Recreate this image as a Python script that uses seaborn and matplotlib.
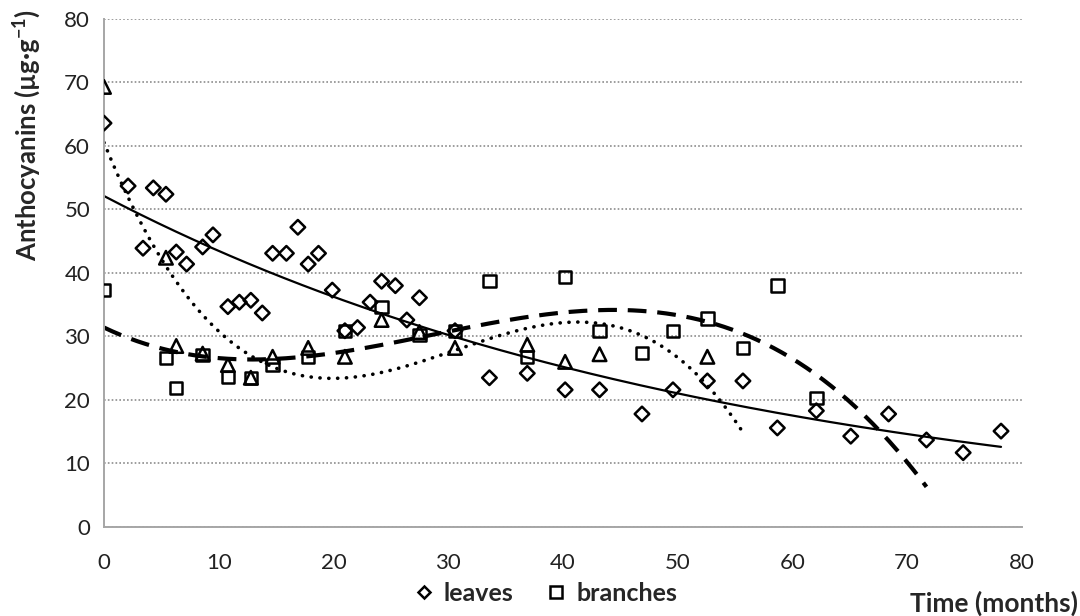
import numpy as np
import pandas as pd
import seaborn as sns
import matplotlib.pyplot as plt
from matplotlib.lines import Line2D

# leaves (diamonds)
leaves_t = [0, 2.1, 3.4, 4.3, 5.4, 6.3, 7.2, 8.6, 9.5, 10.8, 11.8, 12.8, 13.8, 14.7,
            15.9, 16.9, 17.8, 18.7, 19.9, 21.0, 22.1, 23.2, 24.2, 25.4, 26.4, 27.5,
            30.6, 33.6, 36.9, 40.2, 43.2, 46.9, 49.6, 52.6, 55.7, 58.7, 62.1, 65.1,
            68.4, 71.7, 74.9, 78.2]
leaves_v = [63.6, 53.7, 43.9, 53.4, 52.4, 43.3, 41.4, 44.1, 46.0, 34.7, 35.4, 35.7,
            33.7, 43.1, 43.1, 47.2, 41.4, 43.1, 37.3, 30.9, 31.4, 35.4, 38.7, 38.0,
            32.6, 36.1, 30.9, 23.5, 24.2, 21.6, 21.6, 17.8, 21.6, 23.0, 23.0, 15.6,
            18.3, 14.3, 17.8, 13.7, 11.7, 15.1]

# branches (squares)
branches_t = [0, 5.4, 6.3, 8.6, 10.8, 12.8, 14.7, 17.8, 21.0, 24.2, 27.5, 30.6, 33.6,
              36.9, 40.2, 43.2, 46.9, 49.6, 52.6, 55.7, 58.7, 62.1]
branches_v = [37.3, 26.6, 21.9, 27.1, 23.6, 23.5, 25.5, 26.8, 30.9, 34.6, 30.2, 30.9,
              38.7, 26.8, 39.4, 30.9, 27.4, 30.9, 32.8, 28.2, 38.0, 20.3]

# third series (triangles, not in legend)
third_t = [0, 5.4, 6.3, 8.6, 10.8, 12.8, 14.7, 17.8, 21.0, 24.2, 27.5, 30.6, 36.9,
           40.2, 43.2, 52.6]
third_v = [69.3, 42.4, 28.5, 27.3, 25.5, 23.5, 26.8, 28.2, 26.8, 32.6, 30.7, 28.2,
           28.7, 26.0, 27.2, 26.8]

# trendline extents (months)
leaves_end = 78.2
branches_end = 71.7
third_end = 55.5

sns.set_style("white")
plt.rcParams['font.family'] = ['Lato', 'DejaVu Sans']
plt.rcParams['mathtext.fontset'] = 'custom'
plt.rcParams['mathtext.rm'] = 'Lato'
plt.rcParams['mathtext.bf'] = 'Lato:bold'

fig = plt.figure(figsize=(10.8, 6.16), dpi=100)
ax = fig.add_axes([0.0963, 0.1445, 0.8497, 0.8247])

# trend lines
xs = np.linspace(0, leaves_end, 200)
b, a = np.polyfit(leaves_t, np.log(leaves_v), 1)
sns.lineplot(x=xs, y=np.exp(a) * np.exp(b * xs), ax=ax, color='black', lw=1.6)

xs = np.linspace(0, branches_end, 200)
p = np.polyfit(branches_t, branches_v, 3)
sns.lineplot(x=xs, y=np.polyval(p, xs), ax=ax, color='black', lw=3,
             linestyle=(0, (4.5, 2.6)))

xs = np.linspace(0, third_end, 200)
p = np.polyfit(third_t, third_v, 3)
sns.lineplot(x=xs, y=np.polyval(p, xs), ax=ax, color='black', lw=2.6,
             linestyle=(0, (0.05, 2.4)), dash_capstyle='round')

# points
sns.scatterplot(x=leaves_t, y=leaves_v, ax=ax, marker='D', s=55, facecolors='none',
                edgecolor='black', linewidth=1.8, zorder=3)
sns.scatterplot(x=branches_t, y=branches_v, ax=ax, marker='s', s=80, facecolors='none',
                edgecolor='black', linewidth=1.8, zorder=3)
sns.scatterplot(x=third_t, y=third_v, ax=ax, marker='^', s=95, facecolors='none',
                edgecolor='black', linewidth=1.8, zorder=3)

ax.set_xlim(0, 80)
ax.set_ylim(0, 80)
ax.set_xticks(range(0, 81, 10))
ax.set_yticks(range(0, 81, 10))
ax.yaxis.grid(True, color='#8c8c8c', linestyle=(0, (1, 1.3)), lw=1.2)
ax.xaxis.grid(False)
for s in ['top', 'right']:
    ax.spines[s].set_visible(False)
for s in ['left', 'bottom']:
    ax.spines[s].set_color('#a6a6a6')
    ax.spines[s].set_linewidth(1.4)
ax.tick_params(axis='both', direction='out', length=7, width=1.2, color='#a6a6a6',
               labelsize=16, labelcolor='#222222', pad=3)
ax.tick_params(axis='x', pad=12)
ax.set_xlabel('')
ax.set_ylabel('')

fig.text(0.025, 0.985, r'Anthocyanins (µg·g$\mathbf{^{-1}}$)', rotation=90,
         ha='center', va='top', fontsize=18.5, fontweight='bold')
fig.text(0.998, 0.02, 'Time (months)', ha='right', va='center', fontsize=19,
         fontweight='bold')

handles = [
    Line2D([], [], marker='D', ls='none', mfc='none', mec='black', ms=6.5, mew=1.8),
    Line2D([], [], marker='s', ls='none', mfc='none', mec='black', ms=8, mew=1.8),
]
fig.legend(handles, ['leaves', 'branches'], loc='center', bbox_to_anchor=(0.505, 0.037),
           ncol=2, frameon=False, prop={'weight': 'bold', 'size': 18},
           handlelength=0.8, handletextpad=0.4, columnspacing=1.3)

fig.savefig('out.png', dpi=100)
